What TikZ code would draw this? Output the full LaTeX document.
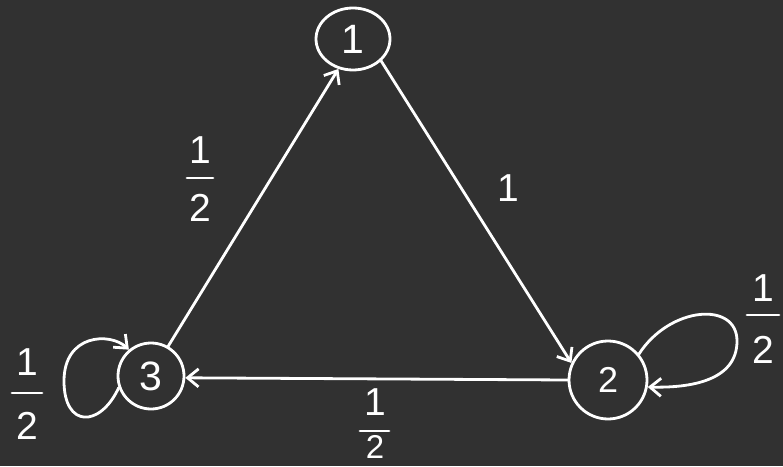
\documentclass[tikz,border=0pt]{standalone}
\usepackage{fontspec}
\setmainfont{Liberation Sans}
\usetikzlibrary{arrows.meta,shapes.geometric}
\definecolor{bg}{RGB}{49,49,49}
\newcommand{\myfrac}[6]{%
  \node[lab] (#1n) at (#2,#3+#5) {1};
  \node[lab] (#1d) at (#2,#3-#6) {2};
  \draw[ln] (#2-#4,#3) -- (#2+#4,#3);
}
\begin{document}
\begin{tikzpicture}[x=1pt,y=1pt,
  ln/.style={draw=white,line width=2.8pt,line cap=round,line join=round},
  arr/.style={ln,-{Straight Barb[length=11pt,width=18pt,line width=2.8pt]}},
  state/.style={draw=white,line width=2.8pt,circle,inner sep=0pt,text=white,font=\fontsize{41}{41}\selectfont},
  lab/.style={text=white,font=\fontsize{39}{39}\selectfont,inner sep=0pt},
]
\fill[bg] (0,0) rectangle (783,466);
\useasboundingbox (0,0) rectangle (783,466);

\node[state,ellipse,minimum width=74pt,minimum height=62pt] (n1) at (353,427) {1};
\node[state,minimum size=66pt] (n3) at (151,90) {3};
\node[state,minimum size=78pt,font=\fontsize{36}{36}\selectfont] (n2) at (608,86) {2};

\draw[arr] (n3.60) -- (n1.244);
\draw[arr] (n1.-38) -- (n2.155);
\draw[arr] (n2.180) -- (n3.-3);

\draw[arr] (n3.200) .. controls (100,38) and (64,38) .. (64,85)
  .. controls (64,132) and (110,134) .. (n3.130);
\draw[arr] (n2.40) .. controls (670,160) and (737,165) .. (737,125)
  .. controls (737,85) and (690,78) .. (n2.-10);

\myfrac{fa}{200}{288}{13}{28}{30}
\node[lab] (fbn) at (375,64) {1};
\node[lab,font=\fontsize{33}{33}\selectfont] (fbd) at (375,19) {2};
\draw[ln] (360,35) -- (389,35);
\myfrac{fc}{763}{151}{16}{27}{35}
\myfrac{fd}{27}{73}{15}{31}{33}
\node[lab] (lone) at (508,278) {1};
\end{tikzpicture}
\end{document}
